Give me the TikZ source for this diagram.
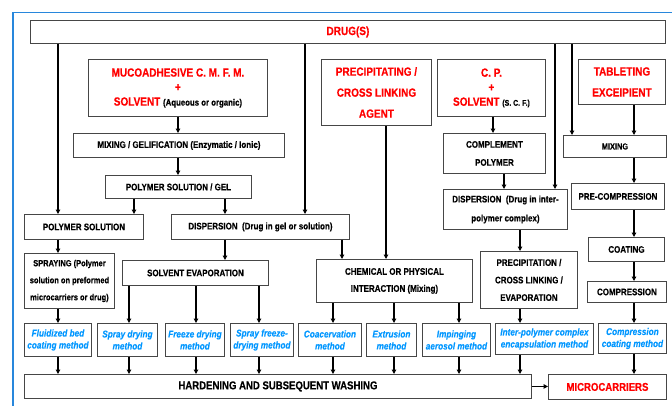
\documentclass[tikz,border=0pt]{standalone}
\usepackage{fontspec}
\setmainfont{Liberation Sans}[FakeStretch=0.84, BoldFeatures={FakeBold=0.4}, BoldItalicFeatures={FakeBold=0.2}]
\usetikzlibrary{arrows.meta}
\definecolor{rd}{RGB}{255,0,0}
\definecolor{bl}{RGB}{0,150,255}
\definecolor{framec}{RGB}{40,135,220}
\definecolor{bd}{RGB}{70,70,70}
\tikzset{
  box/.style={draw=bd, line width=0.9pt, anchor=north west, inner sep=0pt, align=center,
    font=\bfseries\fontsize{9.5}{17}\selectfont},
  redbox/.style={box, text=rd, font=\bfseries\fontsize{11.9}{14.5}\selectfont},
  meth/.style={box, text=bl, font=\bfseries\itshape\fontsize{9.8}{12}\selectfont},
  arr/.style={-{Triangle[length=4.5pt,width=4.5pt]}, line width=1.3pt},
  ln/.style={line width=1.3pt},
}
\newcommand\sz[1]{\fontsize{#1}{14}\selectfont}
\begin{document}
\begin{tikzpicture}[x=1pt,y=-1pt]
\useasboundingbox (0,0) rectangle (672,405);
\draw[framec, line width=1.4pt] (13,406) -- (13,12.5) -- (673,12.5);
% x positions
\foreach \n/\v in {a/58,b/305,c/555,d/572,e/178,f/134,g/225,h/386,i/342,j/493,k/504,l/520,m/634,n/129,o/196,p/259,q/333,r/394,s/459}
  {\coordinate (x\n) at (\v,0);}
% top
\node[redbox, minimum width=635pt, minimum height=23pt] (drug) at (30,20) {DRUG(S)};
\node[redbox, minimum width=179pt, minimum height=57pt] (muco) at (88,59)
  {MUCOADHESIVE C. M. F. M.\\+\\SOLVENT {\color{black}\sz{9.3}(Aqueous or organic)}};
\node[redbox, minimum width=110pt, minimum height=66pt, font=\bfseries\fontsize{11.9}{21}\selectfont] (pca) at (321,59)
  {PRECIPITATING /\\CROSS LINKING\\AGENT};
\node[redbox, minimum width=108pt, minimum height=57pt] (cp) at (437,59)
  {C. P.\\+\\SOLVENT {\color{black}\sz{8.3}(S. C. F.)}};
\node[redbox, minimum width=87pt, minimum height=45pt, font=\bfseries\fontsize{11.9}{21}\selectfont] (tab) at (578,59)
  {TABLETING\\EXCEIPIENT};
% second level
\node[box, minimum width=211pt, minimum height=24pt] (mixgel) at (73,133) {MIXING / GELIFICATION (Enzymatic / Ionic)};
\node[box, minimum width=146pt, minimum height=23pt] (polgel) at (105,175) {POLYMER SOLUTION / GEL};
\node[box, minimum width=102pt, minimum height=40pt, font=\bfseries\fontsize{9.5}{18}\selectfont] (comp) at (443,133) {COMPLEMENT\\POLYMER};
\node[box, minimum width=124pt, minimum height=40pt, font=\bfseries\fontsize{9.5}{19}\selectfont] (dispi) at (443,189) {DISPERSION\ \ (Drug in inter-\\polymer complex)};
\node[box, minimum width=103pt, minimum height=22pt, font=\bfseries\fontsize{8.8}{12}\selectfont] (mix2) at (563,135) {MIXING};
\node[box, minimum width=93pt, minimum height=26pt] (precomp) at (571,183) {PRE-COMPRESSION};
\node[box, minimum width=76pt, minimum height=24pt] (coat) at (588,237) {COATING};
\node[box, minimum width=79pt, minimum height=21pt] (compr) at (587,281) {COMPRESSION};
\node[box, minimum width=119pt, minimum height=25pt] (polsol) at (24,214) {POLYMER SOLUTION};
\node[box, minimum width=178pt, minimum height=25pt] (disp) at (171,214) {DISPERSION\ \ (Drug in gel or solution)};
% third level
\node[box, minimum width=90pt, minimum height=55pt, font=\bfseries\fontsize{8.9}{17}\selectfont] (spray) at (24,253)
  {SPRAYING (Polymer\\solution on preformed\\microcarriers or drug)};
\node[box, minimum width=146pt, minimum height=25pt] (solev) at (122,260) {SOLVENT EVAPORATION};
\node[box, minimum width=156pt, minimum height=43pt] (chem) at (316,259) {CHEMICAL OR PHYSICAL\\INTERACTION (Mixing)};
\node[box, minimum width=97pt, minimum height=57pt, font=\bfseries\fontsize{9.5}{17.5}\selectfont] (prec) at (480,251) {PRECIPITATION /\\CROSS LINKING /\\EVAPORATION};
% methods
\node[meth, minimum width=67pt, minimum height=33pt] (fbc) at (24,323) {Fluidized bed\\coating method};
\node[meth, minimum width=60pt, minimum height=33pt] (sd) at (97,323) {Spray drying\\method};
\node[meth, minimum width=59pt, minimum height=33pt] (fd) at (165,323) {Freeze drying\\method};
\node[meth, minimum width=63pt, minimum height=33pt] (sfd) at (230,323) {Spray freeze-\\drying method};
\node[meth, minimum width=63pt, minimum height=33pt] (coac) at (298,323) {Coacervation\\method};
\node[meth, minimum width=50pt, minimum height=33pt] (ext) at (366,323) {Extrusion\\method};
\node[meth, minimum width=68pt, minimum height=33pt] (imp) at (422,323) {Impinging\\aerosol method};
\node[meth, minimum width=98pt, minimum height=31pt] (ipc) at (495,323) {Inter-polymer complex\\encapsulation method};
\node[meth, minimum width=68pt, minimum height=30pt] (ccm) at (598,323) {Compression\\coating method};
% bottom
\node[box, minimum width=507pt, minimum height=24pt, font=\bfseries\fontsize{11.4}{13}\selectfont] (hard) at (24,374) {HARDENING AND SUBSEQUENT WASHING};
\node[redbox, minimum width=118pt, minimum height=25pt, font=\bfseries\fontsize{11.4}{13}\selectfont] (micro) at (548,374) {MICROCARRIERS};
% connectors from DRUG
\draw[arr] (drug.south -| xa) -- (polsol.north -| xa);
\draw[arr] (drug.south -| xb) -- (disp.north -| xb);
\draw[arr] (drug.south -| xc) -- (dispi.north -| xc);
\draw[arr] (drug.south -| xd) -- (mix2.north -| xd);
% left column
\draw[arr] (muco.south -| xe) -- (mixgel.north -| xe);
\draw[arr] (mixgel.south -| xe) -- (polgel.north -| xe);
\draw[arr] (polgel.south -| xf) -- (polsol.north -| xf);
\draw[arr] (polgel.south -| xg) -- (disp.north -| xg);
\draw[arr] (polsol.south -| xa) -- (spray.north -| xa);
\draw[arr] (disp.south -| xg) -- (solev.north -| xg);
\draw[arr] (disp.south -| xi) -- (chem.north -| xi);
\draw[arr] (pca.south -| xh) -- (chem.north -| xh);
% C.P. column
\draw[arr] (cp.south -| xj) -- (comp.north -| xj);
\draw[arr] (comp.south -| xk) -- (dispi.north -| xk);
\draw[arr] (dispi.south -| xl) -- (prec.north -| xl);
% tablet column
\draw[arr] (tab.south -| xm) -- (mix2.north -| xm);
\draw[arr] (mix2.south -| xm) -- (precomp.north -| xm);
\draw[arr] (precomp.south -| xm) -- (coat.north -| xm);
\draw[arr] (coat.south -| xm) -- (compr.north -| xm);
\draw[arr] (compr.south -| xm) -- (ccm.north -| xm);
% into methods
\draw[arr] (spray.south -| xa) -- (fbc.north -| xa);
\draw[arr] (solev.south -| xn) -- (sd.north -| xn);
\draw[arr] (solev.south -| xo) -- (fd.north -| xo);
\draw[arr] (solev.south -| xp) -- (sfd.north -| xp);
\draw[arr] (chem.south -| xq) -- (coac.north -| xq);
\draw[arr] (chem.south -| xr) -- (ext.north -| xr);
\draw[arr] (chem.south -| xs) -- (imp.north -| xs);
\draw[arr] (prec.south -| xl) -- (ipc.north -| xl);
% methods to hardening
\draw[arr] (fbc.south -| xa) -- (hard.north -| xa);
\draw[arr] (sd.south -| xn) -- (hard.north -| xn);
\draw[arr] (fd.south -| xo) -- (hard.north -| xo);
\draw[arr] (sfd.south -| xp) -- (hard.north -| xp);
\draw[arr] (coac.south -| xq) -- (hard.north -| xq);
\draw[arr] (ext.south -| xr) -- (hard.north -| xr);
\draw[arr] (imp.south -| xs) -- (hard.north -| xs);
\draw[arr] (ipc.south -| xl) -- (hard.north -| xl);
\draw[arr] (ccm.south -| xm) -- (micro.north -| xm);
\draw[arr] (hard.east) -- (micro.west |- hard.east);
\end{tikzpicture}
\end{document}
